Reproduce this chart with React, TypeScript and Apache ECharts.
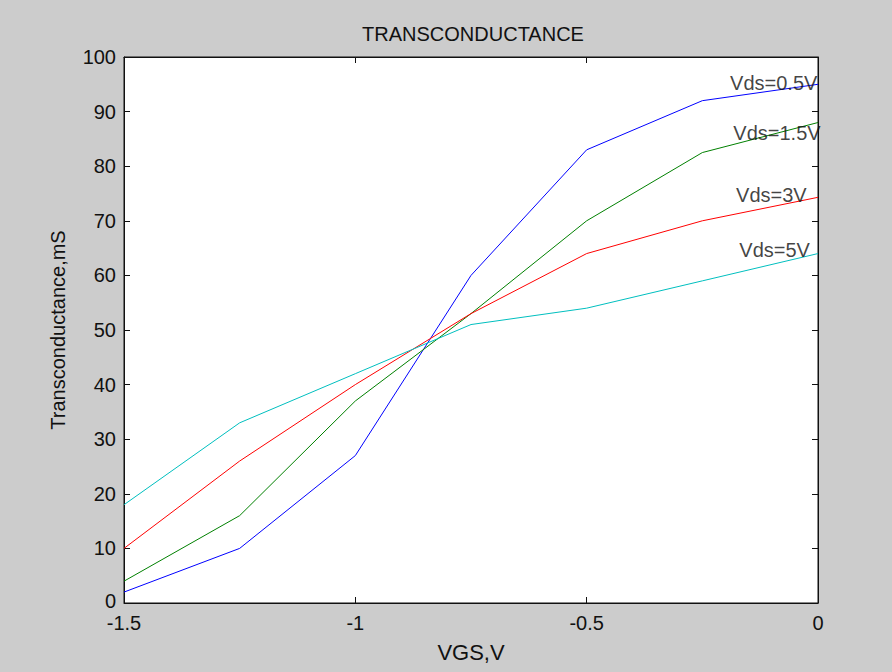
import React, { useEffect, useRef } from "react";
import * as echarts from "echarts";

const vgs = [-1.5, -1.25, -1, -0.75, -0.5, -0.25, 0];
const vds05 = [2, 10, 27, 60, 83, 92, 95];
const vds15 = [4, 16, 37, 53, 70, 82.5, 88];
const vds3 = [10, 26, 40, 53, 64, 70, 74.3];
const vds5 = [18, 33, 42, 51, 54, 59, 64];
const seriesNames = ["Vds=0.5V", "Vds=1.5V", "Vds=3V", "Vds=5V"];
const seriesColors = ["#0000ff", "#008000", "#ff0000", "#00bfbf"];
const labelX = [-0.19, -0.183, -0.177, -0.17];
const labelY = [95.2, 86, 74.7, 64.6];

const FONT = "'Liberation Sans', Arial, sans-serif";

export default function App() {
  const ref = useRef<HTMLDivElement>(null);
  useEffect(() => {
    if (!ref.current) return;
    const chart = echarts.init(ref.current, undefined, { renderer: "svg" });
    const values = [vds05, vds15, vds3, vds5];
    const lineSeries = values.map((vals, i) => ({
      type: "line",
      name: seriesNames[i],
      data: vgs.map((x, j) => [x, vals[j]]),
      showSymbol: false,
      symbol: "none",
      lineStyle: { color: seriesColors[i], width: 1 },
      itemStyle: { color: seriesColors[i] },
      z: 3,
    }));
    const labelSeries = {
      type: "scatter",
      symbolSize: 0,
      data: seriesNames.map((n, i) => [labelX[i], labelY[i], n]),
      label: {
        show: true,
        position: "right",
        distance: 0,
        formatter: (p: any) => p.data[2],
        color: "#111",
        fontFamily: FONT,
        fontSize: 20,
      },
      z: 5,
    };
    const tickStyle = { show: true, inside: true, length: 6, lineStyle: { color: "#111", width: 1 } };
    chart.setOption({
      animation: false,
      backgroundColor: "#cccccc",
      title: {
        text: "TRANSCONDUCTANCE",
        left: 468,
        textAlign: "center",
        top: 19,
        textStyle: { fontFamily: FONT, fontSize: 20, fontWeight: "normal", color: "#111" },
      },
      grid: { left: 124, right: 74, top: 57, bottom: 69, show: true, backgroundColor: "#ffffff", borderColor: "#111", borderWidth: 1 },
      xAxis: [
        {
          type: "value",
          min: -1.5,
          max: 0,
          interval: 0.5,
          name: "VGS,V",
          nameLocation: "middle",
          nameGap: 38,
          nameTextStyle: { fontFamily: FONT, fontSize: 22, color: "#111" },
          axisLine: { show: true, onZero: false, lineStyle: { color: "#111", width: 1 } },
          axisTick: tickStyle,
          splitLine: { show: false },
          axisLabel: { fontFamily: FONT, fontSize: 20, color: "#111", margin: 12, lineHeight: 16 },
        },
        {
          type: "value",
          position: "top",
          min: -1.5,
          max: 0,
          interval: 0.5,
          axisLine: { show: true, onZero: false, lineStyle: { color: "#111", width: 1 } },
          axisTick: tickStyle,
          splitLine: { show: false },
          axisLabel: { show: false },
        },
      ],
      yAxis: [
        {
          type: "value",
          min: 0,
          max: 100,
          interval: 10,
          name: "Transconductance,mS",
          nameLocation: "middle",
          nameGap: 56,
          nameTextStyle: { fontFamily: FONT, fontSize: 20, color: "#111" },
          axisLine: { show: true, onZero: false, lineStyle: { color: "#111", width: 1 } },
          axisTick: tickStyle,
          splitLine: { show: false },
          axisLabel: {
            fontFamily: FONT,
            fontSize: 20,
            color: "#111",
            margin: 8,
            lineHeight: 14,
            formatter: (v: number) => (v === 0 ? "{z|0}" : String(v)),
            rich: { z: { fontFamily: FONT, fontSize: 20, color: "#111", lineHeight: 14, padding: [0, 0, 4, 0] } },
          },
        },
        {
          type: "value",
          position: "right",
          min: 0,
          max: 100,
          interval: 10,
          axisLine: { show: true, onZero: false, lineStyle: { color: "#111", width: 1 } },
          axisTick: tickStyle,
          splitLine: { show: false },
          axisLabel: { show: false },
        },
      ],
      series: [...lineSeries, labelSeries],
    });
    return () => chart.dispose();
  }, []);
  return <div ref={ref} style={{ width: 892, height: 672, position: "absolute", left: 0, top: 0 }} />;
}
